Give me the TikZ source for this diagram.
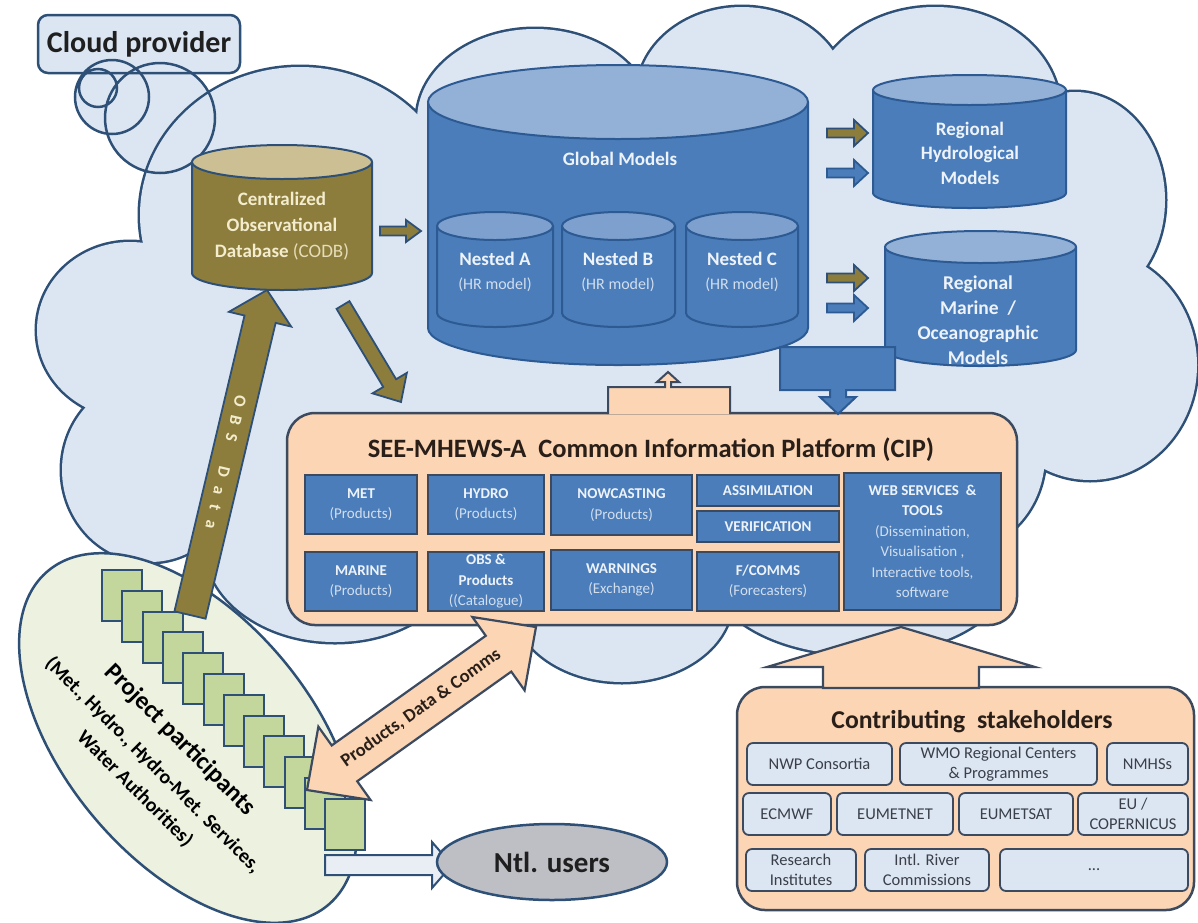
\documentclass[tikz,border=0pt]{standalone}
\usepackage{fontspec}
\setmainfont{Carlito}
\usetikzlibrary{shapes.geometric}
\newcommand{\myfs}[2]{\fontsize{#1}{#2}\selectfont}
\definecolor{cloudfill}{HTML}{DCE6F2}
\definecolor{cloudline}{HTML}{2E5077}
\definecolor{olive}{HTML}{8C7D3D}
\definecolor{olivetop}{HTML}{CDBF94}
\definecolor{bluebody}{HTML}{4A7DBA}
\definecolor{bluetop}{HTML}{93B1D7}
\definecolor{nesttop}{HTML}{7EA0CF}
\definecolor{blueline}{HTML}{2D5A92}
\definecolor{peach}{HTML}{FBD5B4}
\definecolor{boxline}{HTML}{3C4A60}
\definecolor{pgreen}{HTML}{C3D69B}
\definecolor{pellipse}{HTML}{EDF2E0}
\definecolor{ntlgray}{HTML}{BEBFC5}
\definecolor{cream}{HTML}{F3ECCD}
\definecolor{cream2}{HTML}{E6DDB8}
\definecolor{ltxt}{HTML}{EEF3FA}
\definecolor{ltxt2}{HTML}{D2DEEE}
\definecolor{darktxt}{HTML}{2A1F18}
\definecolor{shtxt}{HTML}{3A3F4A}
\definecolor{whitearrow}{HTML}{E9EEF5}

% cylinder: xl, xr, top cy, bottom cy, ry, body, top, stroke
\newcommand{\cylshape}[8]{%
  \pgfmathsetmacro\cyCx{(#1+#2)/2}%
  \pgfmathsetmacro\cyRx{(#2-#1)/2}%
  \pgfmathsetmacro\cyKx{0.5523*\cyRx}%
  \pgfmathsetmacro\cyKy{0.5523*#5}%
  \filldraw[fill=#6, draw=#8, line width=2pt] (#1,#3) -- (#1,#4)
     .. controls (#1,{#4+\cyKy}) and ({\cyCx-\cyKx},{#4+#5}) .. (\cyCx,{#4+#5})
     .. controls ({\cyCx+\cyKx},{#4+#5}) and (#2,{#4+\cyKy}) .. (#2,#4) -- (#2,#3);
  \filldraw[fill=#7, draw=#8, line width=2pt] (\cyCx,#3) ellipse[x radius=\cyRx, y radius=#5];
}
% block arrow: [style] from, to, shaft width, head width, head length
\newcommand{\blockarr}[6][]{%
  \path (#2); \pgfgetlastxy{\baXa}{\baYa}%
  \path (#3); \pgfgetlastxy{\baXb}{\baYb}%
  \pgfmathsetmacro\baAng{atan2((\baYb)-(\baYa),(\baXb)-(\baXa))}%
  \pgfmathsetmacro\baLen{veclen((\baXb)-(\baXa),(\baYb)-(\baYa))}%
  \pgfmathsetmacro\baH{\baLen-#6}%
  \begin{scope}[shift={(\baXa,\baYa)}, rotate=\baAng]
    \filldraw[#1] (0pt,{#4*0.5pt}) -- (\baH pt,{#4*0.5pt}) -- (\baH pt,{#5*0.5pt}) -- (\baLen pt,0pt) -- (\baH pt,{-#5*0.5pt}) -- (\baH pt,{-#4*0.5pt}) -- (0pt,{-#4*0.5pt}) -- cycle;
  \end{scope}}
\newcommand{\dblarr}[6][]{%
  \path (#2); \pgfgetlastxy{\baXa}{\baYa}%
  \path (#3); \pgfgetlastxy{\baXb}{\baYb}%
  \pgfmathsetmacro\baAng{atan2((\baYb)-(\baYa),(\baXb)-(\baXa))}%
  \pgfmathsetmacro\baLen{veclen((\baXb)-(\baXa),(\baYb)-(\baYa))}%
  \pgfmathsetmacro\baH{\baLen-#6}%
  \begin{scope}[shift={(\baXa,\baYa)}, rotate=\baAng]
    \filldraw[#1] (0pt,0pt) -- (#6pt,{#5*0.5pt}) -- (#6pt,{#4*0.5pt}) -- (\baH pt,{#4*0.5pt}) -- (\baH pt,{#5*0.5pt}) -- (\baLen pt,0pt) -- (\baH pt,{-#5*0.5pt}) -- (\baH pt,{-#4*0.5pt}) -- (#6pt,{-#4*0.5pt}) -- (#6pt,{-#5*0.5pt}) -- cycle;
  \end{scope}}

\begin{document}
\begin{tikzpicture}[x=1pt,y=-1pt,
  cline/.style={draw=cloudline, line width=2.5pt},
  olivearr/.style={fill=olive, draw=cloudline, line width=1.8pt},
  bluearr/.style={fill=bluebody, draw=blueline, line width=1.8pt},
  peacharr/.style={fill=peach, draw=boxline, line width=2.2pt},
  cyltxt/.style={text=ltxt, font=\bfseries\myfs{19}{24.5}, align=center},
  cipbox/.style={draw=boxline, fill=bluebody, line width=1.8pt, align=center, inner sep=0pt, text=ltxt, font=\myfs{15}{20.5}},
  shbox/.style={draw=boxline, fill=cloudfill, line width=1.8pt, rounded corners=6pt, align=center, inner sep=0pt, text=shtxt, font=\myfs{16.5}{20}},
  sq/.style={fill=pgreen, draw=cloudline, line width=2pt},
  pptxt/.style={font=\bfseries\myfs{20}{24}, rotate=-45, text=black, inner sep=1pt},
  ]
\useasboundingbox (0,0) rectangle (1198,922);
\fill[white] (0,0) rectangle (1198,922);

% ---- thought bubble fills
\fill[cloudfill] (98,88) circle[radius=19] (112,97) circle[radius=37] (160,118) circle[radius=55];

% ---- cloud
\foreach \cx/\cy/\rx/\ry in {300/215/160/148, 535/120/118/91, 742/95/105/88, 935/110/125/103,
   1075/200/90/108, 1090/365/107/115, 960/455/85/95, 860/570/150/85, 622/600/110/82,
   335/545/130/97, 150/470/88/92, 130/330/93/88}
  \draw[cloudline, line width=5pt] (\cx,\cy) ellipse[x radius=\rx, y radius=\ry];
\foreach \cx/\cy/\rx/\ry in {300/215/160/148, 535/120/118/91, 742/95/105/88, 935/110/125/103,
   1075/200/90/108, 1090/365/107/115, 960/455/85/95, 860/570/150/85, 622/600/110/82,
   335/545/130/97, 150/470/88/92, 130/330/93/88}
  \fill[cloudfill] (\cx,\cy) ellipse[x radius=\rx, y radius=\ry];
\fill[cloudfill] (300,215) -- (535,120) -- (742,95) -- (935,110) -- (1075,200) -- (1090,365)
  -- (960,455) -- (860,570) -- (622,600) -- (335,545) -- (150,470) -- (130,330) -- cycle;

% ---- cloud provider box and bubbles
\node[draw=cloudline, fill=cloudfill, line width=2.5pt, rounded corners=10pt,
      minimum width=202pt, minimum height=58pt] (cpbox) at (139,44) {};
\draw[cline] (98,88) circle[radius=19] (112,97) circle[radius=37] (160,118) circle[radius=55];
\node[font=\bfseries\myfs{30}{34}, text=black!88] (cp) at (cpbox.center) {Cloud provider};

% ---- participants ellipse and squares
\filldraw[fill=pellipse, draw=cloudline, line width=2.5pt, rotate around={-50:(188,738)}]
   (188,738) ellipse[x radius=218, y radius=123];
\foreach \i in {0,...,11}
  \draw[sq] ({102+20.3*\i},{570+20.8*\i}) rectangle +(40,51);
\node[pptxt, font=\bfseries\myfs{25}{28}] (pp1) at (180,740) {Project participants};
\node[pptxt] (pp2) at (153,765) {(Met., Hydro., Hydro-Met. Services,};
\node[pptxt] (pp3) at (135,789) {Water Authorities)};

% ---- OBS data arrow
\coordinate (obsA) at (190,615);
\coordinate (obsB) at (267,290);
\blockarr[olivearr]{obsA}{obsB}{32}{64}{30}
\node[font=\bfseries\myfs{17}{20}, text=cream, rotate=-103] (obstxt) at (226,462)
  {O\hspace{9pt}B\hspace{9pt}S\hspace{26pt}D\hspace{10pt}a\hspace{10pt}t\hspace{10pt}a};

% ---- cylinders
\cylshape{192}{372}{162}{273}{17}{olive}{olivetop}{cloudline}
\node[text=cream, font=\bfseries\myfs{19}{26}, align=center] (codb) at (282,226)
  {Centralized\\Observational\\Database {\mdseries\color{cream2}(CODB)}};

\cylshape{428}{808}{102}{328}{37}{bluebody}{bluetop}{blueline}
\node[cyltxt] (glob) at (620,159) {Global Models};
\cylshape{437}{553}{226}{313}{14}{bluebody}{nesttop}{blueline}
\cylshape{562}{675}{226}{313}{14}{bluebody}{nesttop}{blueline}
\cylshape{686}{798}{226}{313}{14}{bluebody}{nesttop}{blueline}
\node[cyltxt] (nA) at (495,272) {Nested A\\{\mdseries\myfs{16}{24.5}\color{ltxt2}(HR model)}};
\node[cyltxt] (nB) at (618,272) {Nested B\\{\mdseries\myfs{16}{24.5}\color{ltxt2}(HR model)}};
\node[cyltxt] (nC) at (742,272) {Nested C\\{\mdseries\myfs{16}{24.5}\color{ltxt2}(HR model)}};

\cylshape{873}{1066}{90}{193}{15}{bluebody}{bluetop}{blueline}
\node[cyltxt] (rhyd) at (970,153) {Regional\\Hydrological\\Models};
\cylshape{885}{1076}{247}{350}{16}{bluebody}{bluetop}{blueline}
\node[cyltxt, font=\bfseries\myfs{19.5}{25}] (rmar) at (978,320) {Regional\\Marine\ \ /\\Oceanographic\\Models};

% ---- small arrows between cylinders
\coordinate (a1s) at (380,231); \coordinate (a1e) at (421,231);
\blockarr[olivearr]{a1s}{a1e}{9}{22}{15}
\coordinate (a2s) at (827,133); \coordinate (a2e) at (868,133);
\blockarr[olivearr]{a2s}{a2e}{9}{26}{14}
\coordinate (a3s) at (827,173); \coordinate (a3e) at (868,173);
\blockarr[bluearr]{a3s}{a3e}{9}{26}{14}
\coordinate (a4s) at (827,278); \coordinate (a4e) at (868,278);
\blockarr[olivearr]{a4s}{a4e}{9}{26}{14}
\coordinate (a5s) at (827,308); \coordinate (a5e) at (868,308);
\blockarr[bluearr]{a5s}{a5e}{9}{26}{14}

% CODB -> CIP
\coordinate (a6s) at (343,305); \coordinate (a6e) at (401,402);
\blockarr[olivearr]{a6s}{a6e}{15}{40}{22}

% ---- CIP platform
\node[draw=boxline, fill=peach, line width=2.5pt, rounded corners=28pt,
      minimum width=730pt, minimum height=212pt] (cip) at (652,519) {};
\node[font=\bfseries\myfs{26.5}{30}, text=darktxt] (ciptitle) at (651,450)
  {SEE-MHEWS-A\ \ Common\ Information\ Platform\ (CIP)};

\node[cipbox, minimum width=112pt, minimum height=59pt] (met) at (361,504.5) {\textbf{MET}\\{\color{ltxt2}(Products)}};
\node[cipbox, minimum width=116pt, minimum height=59pt] (hydro) at (486,504.5) {\textbf{HYDRO}\\{\color{ltxt2}(Products)}};
\node[cipbox, minimum width=141pt, minimum height=60pt] (now) at (621.5,505) {\textbf{NOWCASTING}\\{\color{ltxt2}(Products)}};
\node[cipbox, minimum width=142pt, minimum height=31pt] (assim) at (768,490.5) {\textbf{ASSIMILATION}};
\node[cipbox, minimum width=142pt, minimum height=31pt] (verif) at (768,526.5) {\textbf{VERIFICATION}};
\node[cipbox, minimum width=112pt, minimum height=59pt] (marine) at (361,581.5) {\textbf{MARINE}\\{\color{ltxt2}(Products)}};
\node[cipbox, minimum width=116pt, minimum height=59pt] (obs) at (486,581.5) {\textbf{OBS \&}\\\textbf{Products}\\{\color{ltxt2}((Catalogue)}};
\node[cipbox, minimum width=141pt, minimum height=60pt] (warn) at (621.5,580) {\textbf{WARNINGS}\\{\color{ltxt2}(Exchange)}};
\node[cipbox, minimum width=142pt, minimum height=59pt] (fcomm) at (768,581.5) {\textbf{F/COMMS}\\{\color{ltxt2}(Forecasters)}};
\node[cipbox, minimum width=157pt, minimum height=137pt] (web) at (922.5,541.5)
  {\textbf{WEB SERVICES\ \ \&}\\\textbf{TOOLS}\\{\color{ltxt2}(Dissemination,}\\{\color{ltxt2}Visualisation ,}\\{\color{ltxt2}Interactive tools,}\\{\color{ltxt2}software}};

% ---- CIP <-> Global connectors
\filldraw[fill=peach, draw=boxline, line width=2pt]
  (608,414) -- (608,387) -- (665,387) -- (665,382) -- (657,382) -- (668,372) -- (679,382)
  -- (671,382) -- (671,387) -- (730,387) -- (730,414);
\filldraw[fill=bluebody, draw=blueline, line width=2pt]
  (780,347) -- (895,347) -- (895,390) -- (846,390) -- (846,397) -- (856,397) -- (838,414)
  -- (820,397) -- (830,397) -- (830,390) -- (780,390) -- cycle;

% ---- stakeholders
\node[draw=boxline, fill=peach, line width=2.5pt, rounded corners=28pt,
      minimum width=457pt, minimum height=223pt] (stake) at (965.5,798.5) {};
\coordinate (shA) at (901,688); \coordinate (shB) at (901,627);
\blockarr[peacharr]{shA}{shB}{156}{268}{40}
\node[font=\bfseries\myfs{25.7}{29}, text=darktxt] (staketitle) at (972,722) {Contributing\ \ stakeholders};
\node[shbox, minimum width=145pt, minimum height=42pt] (nwp) at (819.5,764) {NWP Consortia};
\node[shbox, minimum width=197pt, minimum height=42pt] (wmo) at (998.5,764) {WMO Regional Centers\\\& Programmes};
\node[shbox, minimum width=81pt, minimum height=42pt] (nmhs) at (1147.5,764) {NMHSs};
\node[shbox, minimum width=88pt, minimum height=42pt] (ecmwf) at (787,814) {ECMWF};
\node[shbox, minimum width=116pt, minimum height=42pt] (eumetnet) at (895,814) {EUMETNET};
\node[shbox, minimum width=114pt, minimum height=42pt] (eumetsat) at (1016,814) {EUMETSAT};
\node[shbox, minimum width=110pt, minimum height=42pt] (eu) at (1133,814) {EU /\\COPERNICUS};
\node[shbox, minimum width=110pt, minimum height=42pt] (research) at (801,870) {Research\\Institutes};
\node[shbox, minimum width=124pt, minimum height=42pt] (river) at (927,870) {Intl. River\\Commissions};
\node[shbox, minimum width=188pt, minimum height=42pt] (etc) at (1094,870) {...};

% ---- Products, Data & Comms double arrow
\coordinate (pdA) at (307,790); \coordinate (pdB) at (536,627);
\dblarr[peacharr]{pdA}{pdB}{44}{90}{46}
\node[font=\bfseries\myfs{18.5}{22}, text=darktxt, rotate=35.4] (pdtxt) at (421,708) {Products, Data \& Comms};

% ---- national users
\coordinate (ntA) at (325,865); \coordinate (ntB) at (452,865);
\blockarr[fill=whitearrow, draw=cloudline, line width=2pt]{ntA}{ntB}{20}{46}{20}
\node[ellipse, draw=cloudline, fill=ntlgray, line width=2.5pt, minimum width=230pt, minimum height=76pt,
      inner sep=0pt, font=\bfseries\myfs{29}{32}, text=black!88] (ntl) at (552,862) {Ntl. users};
\end{tikzpicture}
\end{document}
